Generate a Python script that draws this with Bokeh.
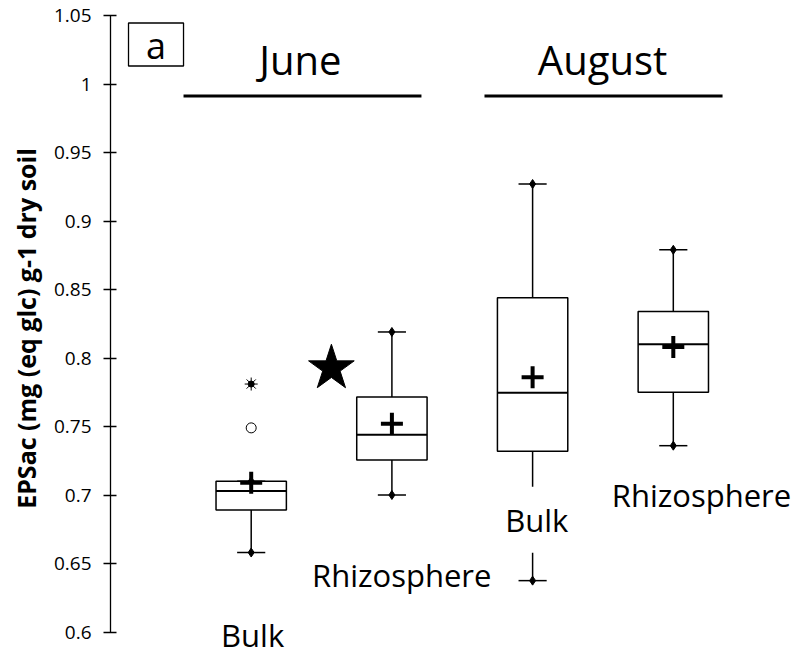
from bokeh.plotting import figure
from bokeh.models import Range1d, Label, FixedTicker, ColumnDataSource
from bokeh.embed import file_html
from bokeh.resources import INLINE

# ---- data ----
months = ["June", "June", "August", "August"]
groups = ["Bulk", "Rhizosphere", "Bulk", "Rhizosphere"]
lower_whisker = [0.658, 0.700, 0.6375, 0.736]
q1 = [0.689, 0.7255, 0.732, 0.775]
median = [0.703, 0.744, 0.7747, 0.810]
q3 = [0.710, 0.7715, 0.844, 0.834]
upper_whisker = [0.710, 0.819, 0.927, 0.879]
mean = [0.709, 0.752, 0.786, 0.808]
outliers_circle = [0.749]      # June Bulk
outliers_extreme = [0.781]     # June Bulk
outlier_group_index = 0
significance_value = 0.7925    # star (June difference)

tick_values = [0.6, 0.65, 0.7, 0.75, 0.8, 0.85, 0.9, 0.95, 1.0, 1.05]
tick_labels = ["0.6", "0.65", "0.7", "0.75", "0.8", "0.85", "0.9", "0.95", "1", "1.05"]
y_label = "EPSac (mg (eq glc) g-1 dry soil"
panel_tag = "a"

# ---- layout / style ----
FONT = "Open Sans"
PX = 1.0 / 1370.0          # data units per screen pixel (vertical)
pos = [i + 1 for i in range(len(groups))]
half = 0.25
cap = 0.1


def base(y, size):
    # compensate text anchor so that y is the visual baseline
    return y + 0.39 * size * PX


p = figure(width=800, height=656, output_backend="svg", toolbar_location=None,
           x_range=Range1d(0, 4.904), y_range=Range1d(0.58212, 1.06095),
           x_axis_location=None, min_border_left=110, min_border_right=0,
           min_border_top=0, min_border_bottom=0)
p.outline_line_color = None
p.xgrid.visible = False
p.ygrid.visible = False
p.background_fill_color = "white"
p.border_fill_color = "white"

ax = p.yaxis[0]
ax.ticker = FixedTicker(ticks=tick_values)
ax.major_label_overrides = dict(zip(tick_values, tick_labels))
ax.bounds = (tick_values[0], tick_values[-1])
ax.axis_line_color = "black"
ax.axis_line_width = 1.3
ax.major_tick_line_color = "black"
ax.major_tick_line_width = 1.3
ax.major_tick_in = 6
ax.major_tick_out = 7
ax.minor_tick_line_color = None
ax.major_label_text_font = FONT
ax.major_label_text_font_size = "19px"
ax.major_label_text_color = "black"
ax.major_label_standoff = 12
ax.axis_label = y_label
ax.axis_label_text_font = FONT
ax.axis_label_text_font_style = "bold"
ax.axis_label_text_font_size = "25px"
ax.axis_label_text_color = "black"
ax.axis_label_standoff = 8

src = ColumnDataSource(dict(
    x=pos,
    left=[x - half for x in pos], right=[x + half for x in pos],
    cl=[x - cap for x in pos], cr=[x + cap for x in pos],
    lw=lower_whisker, q1=q1, med=median, q3=q3, uw=upper_whisker, mean=mean,
))

# whiskers
p.segment(x0="x", y0="q3", x1="x", y1="uw", source=src, line_color="black", line_width=1.5)
p.segment(x0="x", y0="q1", x1="x", y1="lw", source=src, line_color="black", line_width=1.5)
p.segment(x0="cl", y0="uw", x1="cr", y1="uw", source=src, line_color="black", line_width=1.5)
p.segment(x0="cl", y0="lw", x1="cr", y1="lw", source=src, line_color="black", line_width=1.5)
p.scatter(x="x", y="uw", source=src, marker="diamond", size=9, color="black")
p.scatter(x="x", y="lw", source=src, marker="diamond", size=9, color="black")

# boxes
p.quad(left="left", right="right", bottom="q1", top="q3", source=src,
       fill_color="white", line_color="black", line_width=1.5)
p.segment(x0="left", y0="med", x1="right", y1="med", source=src,
          line_color="black", line_width=2)
p.scatter(x="x", y="mean", source=src, marker="cross", size=22, line_width=4,
          line_color="black")

# outliers
ox = [pos[outlier_group_index]] * len(outliers_circle)
p.scatter(x=ox, y=outliers_circle, marker="circle", size=10, fill_color="white",
          line_color="black", line_width=1)
ex = [pos[outlier_group_index]] * len(outliers_extreme)
p.scatter(x=ex, y=outliers_extreme, marker="asterisk", size=13, line_color="black",
          line_width=1)
p.scatter(x=ex, y=outliers_extreme, marker="circle", size=6, color="black")

# significance star
p.scatter(x=[1.57], y=[significance_value], marker="star", size=48, color="black")

# group labels (x, baseline y) - layout positions
label_pos = [(1.01, 0.589), (2.07, 0.633), (3.03, 0.6732), (4.2, 0.6915)]
for g, (lx, ly) in zip(groups, label_pos):
    p.add_layout(Label(x=lx, y=base(ly, 31), text=g, text_align="center",
                       text_baseline="alphabetic", text_font=FONT,
                       text_font_size="31px", text_color="black",
                       background_fill_color="white", background_fill_alpha=1.0,
                       padding=12))

# month headers and lines
month_names = ["June", "August"]
month_pos = [(1.35, 1.00657), (3.497, 1.00657)]
month_lines = [(0.519, 2.21), (2.658, 4.35)]
for m, (mx, my), (l0, l1) in zip(month_names, month_pos, month_lines):
    p.add_layout(Label(x=mx, y=base(my, 40), text=m, text_align="center",
                       text_baseline="alphabetic", text_font=FONT,
                       text_font_size="40px", text_color="black"))
    p.segment(x0=[l0], y0=[0.99124], x1=[l1], y1=[0.99124], line_color="black",
              line_width=3.2)

# panel tag "a"
p.quad(left=[0.128], right=[0.519], bottom=[1.01314], top=[1.04453],
       fill_color=None, line_color="black", line_width=1.3)
p.add_layout(Label(x=0.3235, y=base(1.0175, 36), text=panel_tag, text_align="center",
                   text_baseline="alphabetic", text_font=FONT,
                   text_font_size="36px", text_color="black"))

open("out.html", "w").write(file_html(p, INLINE))
